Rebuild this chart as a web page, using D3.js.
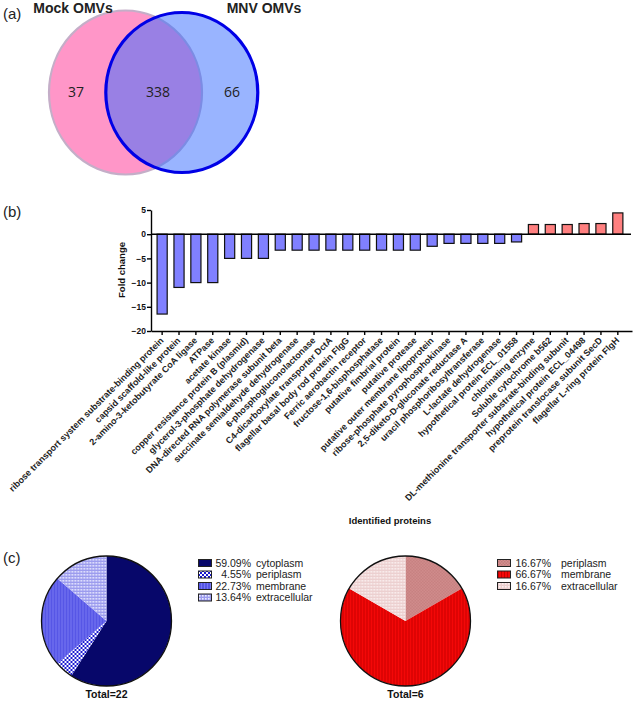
<!DOCTYPE html>
<html><head><meta charset="utf-8">
<script src="https://cdn.jsdelivr.net/npm/d3@7"></script>
<style>
body{margin:0;background:#fff;}
svg{display:block;font-family:"Liberation Sans",Arial,sans-serif;}
</style></head>
<body><svg id="c" width="638" height="710"></svg>
<script>
// ---- Data ----
const vennSets = ["Mock OMVs", "MNV OMVs"];
const vennCounts = [37, 338, 66]; // mock only, shared, MNV only

const proteins = [
 "ribose transport system substrate-binding protein",
 "capsid scaffold-like protein",
 "2-amino-3-ketobutyrate CoA ligase",
 "ATPase",
 "acetate kinase",
 "copper resistance protein B (plasmid)",
 "glycerol-3-phosphate dehydrogenase",
 "DNA-directed RNA polymerase subunit beta",
 "succinate semialdehyde dehydrogenase",
 "6-phosphogluconolactonase",
 "C4-dicarboxylate transporter DctA",
 "flagellar basal body rod protein FlgG",
 "Ferric aerobactin receptor",
 "fructose-1,6-bisphosphatase",
 "putative fimbrial protein",
 "putative protease",
 "putative outer membrane lipoprotein",
 "ribose-phosphate pyrophosphokinase",
 "2,5-diketo-D-gluconate reductase A",
 "uracil phosphoribosyltransferase",
 "L-lactate dehydrogenase",
 "hypothetical protein ECL_01558",
 "chlorinating enzyme",
 "Soluble cytochrome b562",
 "DL-methionine transporter substrate-binding subunit",
 "hypothetical protein ECL_04498",
 "preprotein translocase subunit SecD",
 "flagellar L-ring protein FlgH"
];
const foldChange = [-16.5, -11, -10, -10, -5, -5, -5, -3.3, -3.3, -3.3, -3.3, -3.3, -3.3, -3.3, -3.3, -3.3,
 -2.5, -1.9, -1.9, -1.9, -1.9, -1.6, 2, 2, 2, 2.2, 2.2, 4.4];
const yTicks = [5, 0, -5, -10, -15, -20];

const downLocations = ["cytoplasm", "periplasm", "membrane", "extracellular"];
const downPercents = [59.09, 4.55, 22.73, 13.64];
const downTotal = 22;
const upLocations = ["periplasm", "membrane", "extracellular"];
const upPercents = [16.67, 66.67, 16.67];
const upTotal = 6;

// ---- Drawing ----
const svg = d3.select("#c");
const defs = svg.append("defs");

function pat(id, w, h, bg, draw) {
  const p = defs.append("pattern").attr("id", id).attr("patternUnits", "userSpaceOnUse")
    .attr("width", w).attr("height", h);
  p.append("rect").attr("width", w).attr("height", h).attr("fill", bg);
  draw(p);
}
// blue patterns
pat("pPeriB", 4, 4, "#ffffff", p => {
  p.append("rect").attr("x",0).attr("y",0).attr("width",2).attr("height",2).attr("fill","#1a1ad0");
  p.append("rect").attr("x",2).attr("y",2).attr("width",2).attr("height",2).attr("fill","#1a1ad0");
});
pat("pMemB", 3, 3, "#5656e6", p => {
  p.append("rect").attr("x",0).attr("y",0).attr("width",1).attr("height",3).attr("fill","#7878f2");
});
pat("pExtB", 3, 3, "#9c9cee", p => {
  p.append("rect").attr("x",1).attr("y",1).attr("width",1.6).attr("height",1.6).attr("fill","#ececff");
});
// red patterns
pat("pPeriR", 3, 3, "#d49090", p => {
  p.append("rect").attr("x",0).attr("y",0).attr("width",1.5).attr("height",1.5).attr("fill","#c27c7c");
  p.append("rect").attr("x",1.5).attr("y",1.5).attr("width",1.5).attr("height",1.5).attr("fill","#c27c7c");
});
pat("pMemR", 3, 3, "#f40808", p => {
  p.append("rect").attr("x",0).attr("y",0).attr("width",1).attr("height",3).attr("fill","#c80000");
});
pat("pExtR", 3, 3, "#ecd0d0", p => {
  p.append("rect").attr("x",1).attr("y",1).attr("width",1.6).attr("height",1.6).attr("fill","#fbf2f2");
});

// ---- (a) Venn ----
const gA = svg.append("g");
gA.append("text").attr("x", 3).attr("y", 19).attr("font-size", 15).attr("fill","#222").text("(a)");
gA.append("ellipse").attr("cx", 125.5).attr("cy", 92.5).attr("rx", 76.5).attr("ry", 82)
  .attr("fill", "#ff96c8").attr("stroke", "#c4aec8").attr("stroke-width", 2.2);
gA.append("ellipse").attr("cx", 181.8).attr("cy", 92.5).attr("rx", 76).attr("ry", 80)
  .attr("fill", "rgb(51,105,255)").attr("fill-opacity", 0.5)
  .attr("stroke", "#0000e6").attr("stroke-width", 3.2);
gA.append("text").attr("x", 73).attr("y", 13).attr("text-anchor","middle").attr("font-size", 14)
  .attr("font-weight","bold").attr("fill","#222").text(vennSets[0]);
gA.append("text").attr("x", 264).attr("y", 13).attr("text-anchor","middle").attr("font-size", 14)
  .attr("font-weight","bold").attr("fill","#222").text(vennSets[1]);
const vx = [76, 158, 232];
vennCounts.forEach((v, i) => {
  gA.append("text").attr("x", vx[i]).attr("y", 97).attr("text-anchor","middle")
    .attr("font-family","'Open Sans','Noto Sans',sans-serif")
    .attr("font-size", 14).attr("fill","#222").text(v);
});

// ---- (b) Bar chart ----
const gB = svg.append("g");
gB.append("text").attr("x", 3).attr("y", 217).attr("font-size", 15).attr("fill","#222").text("(b)");
const x = d3.scaleBand().domain(proteins).range([151, 632]).paddingInner(0.4).paddingOuter(0.45).align(0.4);
const y = d3.scaleLinear().domain([-20, 5]).range([331, 210]);

gB.selectAll("rect.bar").data(proteins).join("rect").attr("class","bar")
  .attr("x", d => x(d)).attr("width", x.bandwidth())
  .attr("y", (d, i) => y(Math.max(0, foldChange[i])))
  .attr("height", (d, i) => Math.abs(y(foldChange[i]) - y(0)))
  .attr("fill", (d, i) => foldChange[i] < 0 ? "#8080ff" : "#ff8080")
  .attr("stroke", "#111").attr("stroke-width", 1.2);

// zero line
gB.append("line").attr("x1", 151).attr("x2", 631).attr("y1", y(0)).attr("y2", y(0))
  .attr("stroke","#000").attr("stroke-width", 1.4);

const yAxis = gB.append("g").attr("transform","translate(151,0)")
  .call(d3.axisLeft(y).tickValues(yTicks).tickSize(4).tickSizeOuter(0));
yAxis.select(".domain").attr("stroke-width", 1.4);
yAxis.selectAll(".tick line").attr("stroke-width", 1.4);
yAxis.selectAll("text").attr("font-size", 8.5).attr("font-weight","bold").attr("font-family","'Liberation Sans',Arial")
  .attr("x", -5).attr("fill","#111");

const xAxis = gB.append("g").attr("transform","translate(0,331)")
  .call(d3.axisBottom(x).tickSize(4).tickSizeOuter(0).tickFormat(""));
xAxis.select(".domain").attr("stroke-width", 1.4);
xAxis.selectAll(".tick line").attr("stroke-width", 1.4);

gB.selectAll("text.xl").data(proteins).join("text").attr("class","xl")
  .attr("transform", d => `translate(${x(d) + x.bandwidth()/2 + 2},${341}) rotate(-45)`)
  .attr("text-anchor","end").attr("font-size", 9).attr("font-weight","bold").attr("fill","#222")
  .text(d => d);

gB.append("text").attr("transform","translate(125,270) rotate(-90)").attr("text-anchor","middle")
  .attr("font-size", 9.5).attr("font-weight","bold").attr("fill","#111").text("Fold change");
gB.append("text").attr("x", 390).attr("y", 524).attr("text-anchor","middle")
  .attr("font-size", 9.5).attr("font-weight","bold").attr("fill","#111").text("Identified proteins");

// ---- (c) Pies ----
const gC = svg.append("g");
gC.append("text").attr("x", 3).attr("y", 563).attr("font-size", 15).attr("fill","#222").text("(c)");

function drawPie(cx, cy, r, labels, values, fills, total, legX, pctX, nameX) {
  const pie = d3.pie().sort(null).value(d => d)(values);
  const arc = d3.arc().innerRadius(0).outerRadius(r);
  const g = gC.append("g").attr("transform", `translate(${cx},${cy})`);
  g.selectAll("path").data(pie).join("path").attr("d", arc)
    .attr("fill", (d, i) => fills[i]).attr("stroke","none");
  g.append("circle").attr("r", r).attr("fill","none").attr("stroke","#111").attr("stroke-width",1.3);
  gC.append("text").attr("x", cx).attr("y", cy + 77).attr("text-anchor","middle")
    .attr("font-size", 10.5).attr("font-weight","bold").attr("fill","#111").text("Total=" + total);
  const rowY = [563, 574.5, 586, 597.5];
  labels.forEach((lab, i) => {
    gC.append("rect").attr("x", legX).attr("y", rowY[i] - 3.5).attr("width", 13).attr("height", 7)
      .attr("fill", fills[i]).attr("stroke","#222").attr("stroke-width", 1);
    gC.append("text").attr("x", pctX).attr("y", rowY[i] + 3.8).attr("text-anchor","end")
      .attr("font-size", 10.5).attr("fill","#222").text(values[i].toFixed(2) + "%");
    gC.append("text").attr("x", nameX).attr("y", rowY[i] + 3.8)
      .attr("font-size", 10.5).attr("fill","#222").text(lab);
  });
}
drawPie(106.5, 621, 65, downLocations, downPercents, ["#07076a","url(#pPeriB)","url(#pMemB)","url(#pExtB)"], downTotal, 198.5, 251, 256);
drawPie(405.5, 621, 65, upLocations, upPercents, ["url(#pPeriR)","url(#pMemR)","url(#pExtR)"], upTotal, 497.5, 551, 561);
</script></body></html>
